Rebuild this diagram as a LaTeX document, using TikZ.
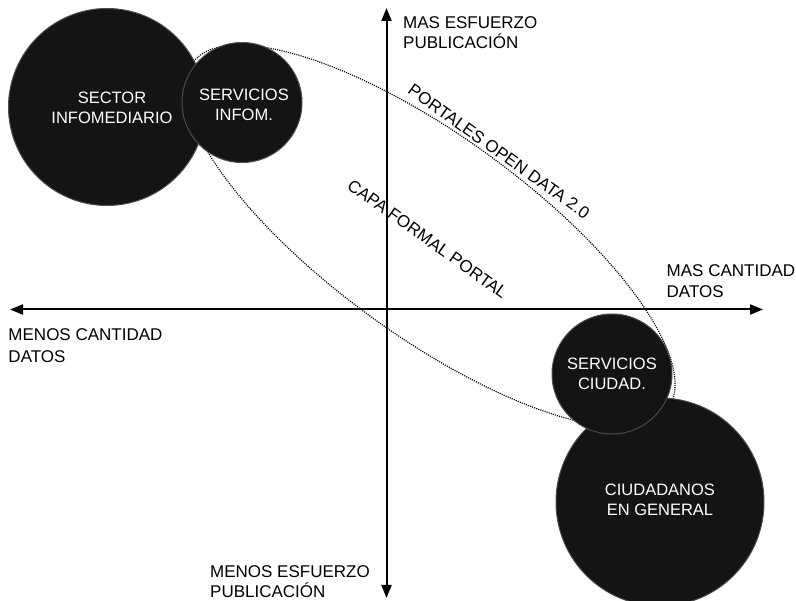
\documentclass[tikz,border=0pt]{standalone}
\usepackage{fontspec}
\setmainfont{Liberation Sans}
\usetikzlibrary{arrows.meta}
\begin{document}
\begin{tikzpicture}[x=1pt,y=-1pt,
  bubble/.style={circle, fill=black!92, draw=black!70, line width=1pt, inner sep=0pt},
  bubbletext/.style={text=white, align=center, inner sep=0pt, font=\fontsize{16.5}{19.5}\selectfont},
  axislabel/.style={align=left, anchor=north west, inner sep=0pt},
  axisline/.style={line width=2pt, {Triangle[length=13pt,width=10pt]}-{Triangle[length=13pt,width=10pt]}},
  dotline/.style={line width=1.15pt, dash pattern=on 1.1pt off 1.1pt},
  slanted/.style={rotate=-35.5, inner sep=0pt, font=\fontsize{17}{20}\selectfont}
]
\useasboundingbox (0,0) rectangle (796,601);
\fill[white] (0,0) rectangle (796,601);

% dotted ellipse (portal)
\draw[dotline, rotate around={-36:(430,236)}] (430,236) ellipse [x radius=294pt, y radius=100pt];

% axes
\coordinate (ytop) at (386.5,8);
\coordinate (ybot) at (386.5,598);
\coordinate (xleft) at (10,309.5);
\coordinate (xright) at (763,309.5);
\draw[axisline] (ybot) -- (ytop);
\draw[axisline] (xleft) -- (xright);

% circles
\node[bubble, minimum size=197pt] (sector) at (107,107) {};
\node[bubble, minimum size=120pt] (servinfo) at (242,102.5) {};
\node[bubble, minimum size=208pt] (ciud) at (660,502) {};
\node[bubble, minimum size=120pt] (servciud) at (612,374) {};

\node[bubbletext] (sectortext) at (112,108) {SECTOR\\INFOMEDIARIO};
\node[bubbletext] (servinfotext) at (244,105) {SERVICIOS\\INFOM.};
\node[bubbletext] (ciudtext) at (660,500) {CIUDADANOS\\EN GENERAL};
\node[bubbletext] (servciudtext) at (612,374) {SERVICIOS\\CIUDAD.};

% axis labels
\node[axislabel, font=\fontsize{17}{20}\selectfont] (masesf) at (403,16.5) {MAS ESFUERZO\\PUBLICACIÓN};
\node[axislabel, font=\fontsize{17}{21.7}\selectfont] (mascant) at (666.5,264) {MAS CANTIDAD\\DATOS};
\node[axislabel, font=\fontsize{17}{21.7}\selectfont] (menoscant) at (8.3,328.3) {MENOS CANTIDAD\\DATOS};
\node[axislabel, font=\fontsize{17}{20}\selectfont] (menosesf) at (210,565) {MENOS ESFUERZO\\PUBLICACIÓN};

% slanted labels
\node[slanted] (portales) at (499,151.5) {PORTALES OPEN DATA 2.0};
\node[slanted] (capa) at (427.5,239) {CAPA FORMAL PORTAL};
\end{tikzpicture}
\end{document}
